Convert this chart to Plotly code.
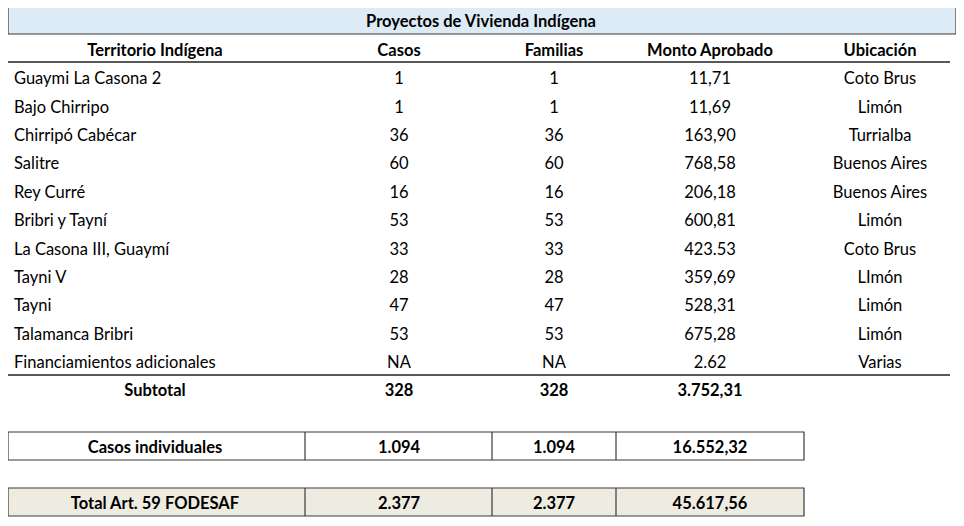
import plotly.graph_objects as go

# Datos de la tabla
titulo = "Proyectos de Vivienda Indígena"
encabezados = ["Territorio Indígena", "Casos", "Familias", "Monto Aprobado", "Ubicación"]
territorios = ["Guaymi La Casona 2", "Bajo Chirripo", "Chirripó Cabécar", "Salitre", "Rey Curré",
               "Bribri y Tayní", "La Casona III, Guaymí", "Tayni V", "Tayni", "Talamanca Bribri",
               "Financiamientos adicionales"]
casos = ["1", "1", "36", "60", "16", "53", "33", "28", "47", "53", "NA"]
familias = ["1", "1", "36", "60", "16", "53", "33", "28", "47", "53", "NA"]
monto = ["11,71", "11,69", "163,90", "768,58", "206,18", "600,81", "423.53", "359,69", "528,31", "675,28", "2.62"]
ubicacion = ["Coto Brus", "Limón", "Turrialba", "Buenos Aires", "Buenos Aires", "Limón", "Coto Brus",
             "LImón", "Limón", "Limón", "Varias"]
subtotal = ["Subtotal", "328", "328", "3.752,31"]
individuales = ["Casos individuales", "1.094", "1.094", "16.552,32"]
total = ["Total Art. 59 FODESAF", "2.377", "2.377", "45.617,56"]

W, H = 964, 526
M = 8  # margen del body de la pagina
FONT = "Lato"
DY = 3  # ajuste vertical del texto
col_x = [155, 399, 554, 710, 880]  # centros de columna
row0, paso = 77, 28.4

fig = go.Figure()

def texto(xs, ys, txt, pos="middle center", bold=False):
    if bold:
        txt = ["<b>%s</b>" % t for t in txt]
    fig.add_trace(go.Scatter(x=xs, y=[y + DY for y in ys], text=txt, mode="text", textposition=pos,
                             textfont=dict(family=FONT, size=16.5, color="#000000"),
                             hoverinfo="skip", showlegend=False, cliponaxis=False))

# titulo
fig.add_shape(type="rect", x0=M, x1=956, y0=6, y1=34, fillcolor="#DDEBF7",
              line=dict(color="#3a3a3a", width=1.2), layer="below")
texto([481], [20], [titulo], bold=True)

# encabezados
texto(col_x, [49] * 5, encabezados, bold=True)
fig.add_shape(type="line", x0=M, x1=950, y0=62, y1=62, line=dict(color="#595959", width=2))

# filas
ys = [row0 + i * paso for i in range(len(territorios))]
texto([14] * len(ys), ys, territorios, pos="middle right")
texto([col_x[1]] * len(ys), ys, casos)
texto([col_x[2]] * len(ys), ys, familias)
texto([col_x[3]] * len(ys), ys, monto)
texto([col_x[4]] * len(ys), ys, ubicacion)

# subtotal
fig.add_shape(type="line", x0=M, x1=950, y0=375, y1=375, line=dict(color="#595959", width=2))
texto(col_x[:4], [389] * 4, subtotal, bold=True)

# cajas inferiores
divs = [M, 305, 492, 616, 804]
for (y0, y1, fill, fila) in [(432, 460, "#FFFFFF", individuales), (488, 516, "#EEECE1", total)]:
    fig.add_shape(type="rect", x0=divs[0], x1=divs[-1], y0=y0, y1=y1, fillcolor=fill,
                  line=dict(color="#3a3a3a", width=1.2), layer="below")
    for d in divs[1:-1]:
        fig.add_shape(type="line", x0=d, x1=d, y0=y0, y1=y1, line=dict(color="#3a3a3a", width=1.2))
    texto(col_x[:4], [(y0 + y1) / 2] * 4, fila, bold=True)

fig.update_layout(
    width=W - 2 * M, height=H - 2 * M, margin=dict(l=0, r=0, t=0, b=0),
    paper_bgcolor="white", plot_bgcolor="white",
    xaxis=dict(range=[M, W - M], visible=False, fixedrange=True),
    yaxis=dict(range=[H - M, M], visible=False, fixedrange=True),
)
fig.write_html("out.html")
